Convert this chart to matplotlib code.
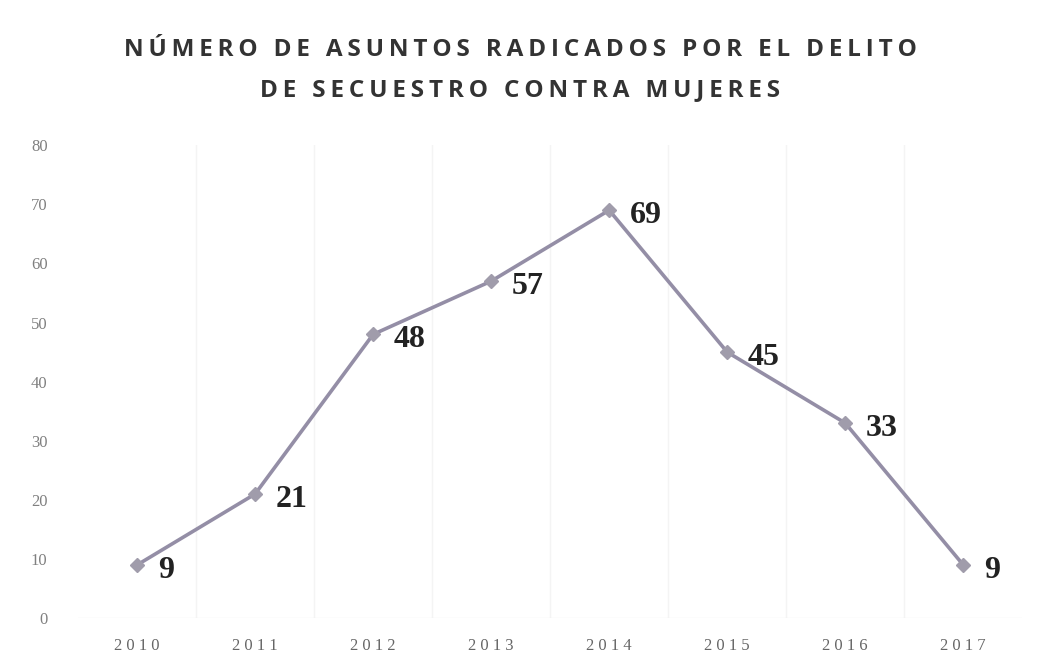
import matplotlib
matplotlib.use("Agg")
import matplotlib.pyplot as plt
import numpy as np

years = ['2010', '2011', '2012', '2013', '2014', '2015', '2016', '2017']
asuntos = [9, 21, 48, 57, 69, 45, 33, 9]
yticks = [0, 10, 20, 30, 40, 50, 60, 70, 80]
titulo = ['NÚMERO DE ASUNTOS RADICADOS POR EL DELITO', 'DE SECUESTRO CONTRA MUJERES']

fig = plt.figure(figsize=(10.41, 6.69), dpi=100, facecolor='white')
ax = fig.add_axes((0.075, 0.076, 0.907, 0.707))

x = np.arange(len(years))
ax.plot(x, asuntos, color='#948ea6', linewidth=2.6, marker='D', markersize=7,
        markerfacecolor='#a09cab', markeredgecolor='#a09cab', zorder=3)

for xi, v in zip(x, asuntos):
    ax.annotate(str(v), (xi, v), xytext=(15, -4), textcoords='offset points',
                ha='left', va='center', fontsize=23, fontweight='bold',
                family='Liberation Serif', color='#222222')

ax.set_xlim(-0.5, len(years) - 0.5)
ax.set_ylim(0, 80)
ax.set_xticks(x)
ax.set_xticklabels([' '.join(y) for y in years], family='Liberation Serif', fontsize=12, color='#666666')
ax.set_yticks(yticks)
ax.set_yticklabels([str(t) for t in yticks], family='Liberation Serif', fontsize=12, color='#808080')
ax.tick_params(length=0, pad=14)
ax.tick_params(axis='y', pad=22)

# lineas verticales tenues entre categorias
ax.set_xticks(np.arange(0.5, len(years) - 1, 1), minor=True)
ax.tick_params(which='minor', length=0)
ax.grid(which='minor', axis='x', color='#f4f4f4', linewidth=1)

for s in ax.spines.values():
    s.set_visible(False)
ax.axhline(0, color='#f0f0f0', linewidth=1)

# titulo con espaciado entre letras
def espaciado(t):
    return '\u2009'.join(t)

fig.text(0.5, 0.925, espaciado(titulo[0]), ha='center', va='center', fontsize=17.5,
         fontweight='bold', family=['Open Sans', 'DejaVu Sans'], color='#333333')
fig.text(0.5, 0.865, espaciado(titulo[1]), ha='center', va='center', fontsize=17.5,
         fontweight='bold', family=['Open Sans', 'DejaVu Sans'], color='#333333')

fig.savefig('out.png', dpi=100)
